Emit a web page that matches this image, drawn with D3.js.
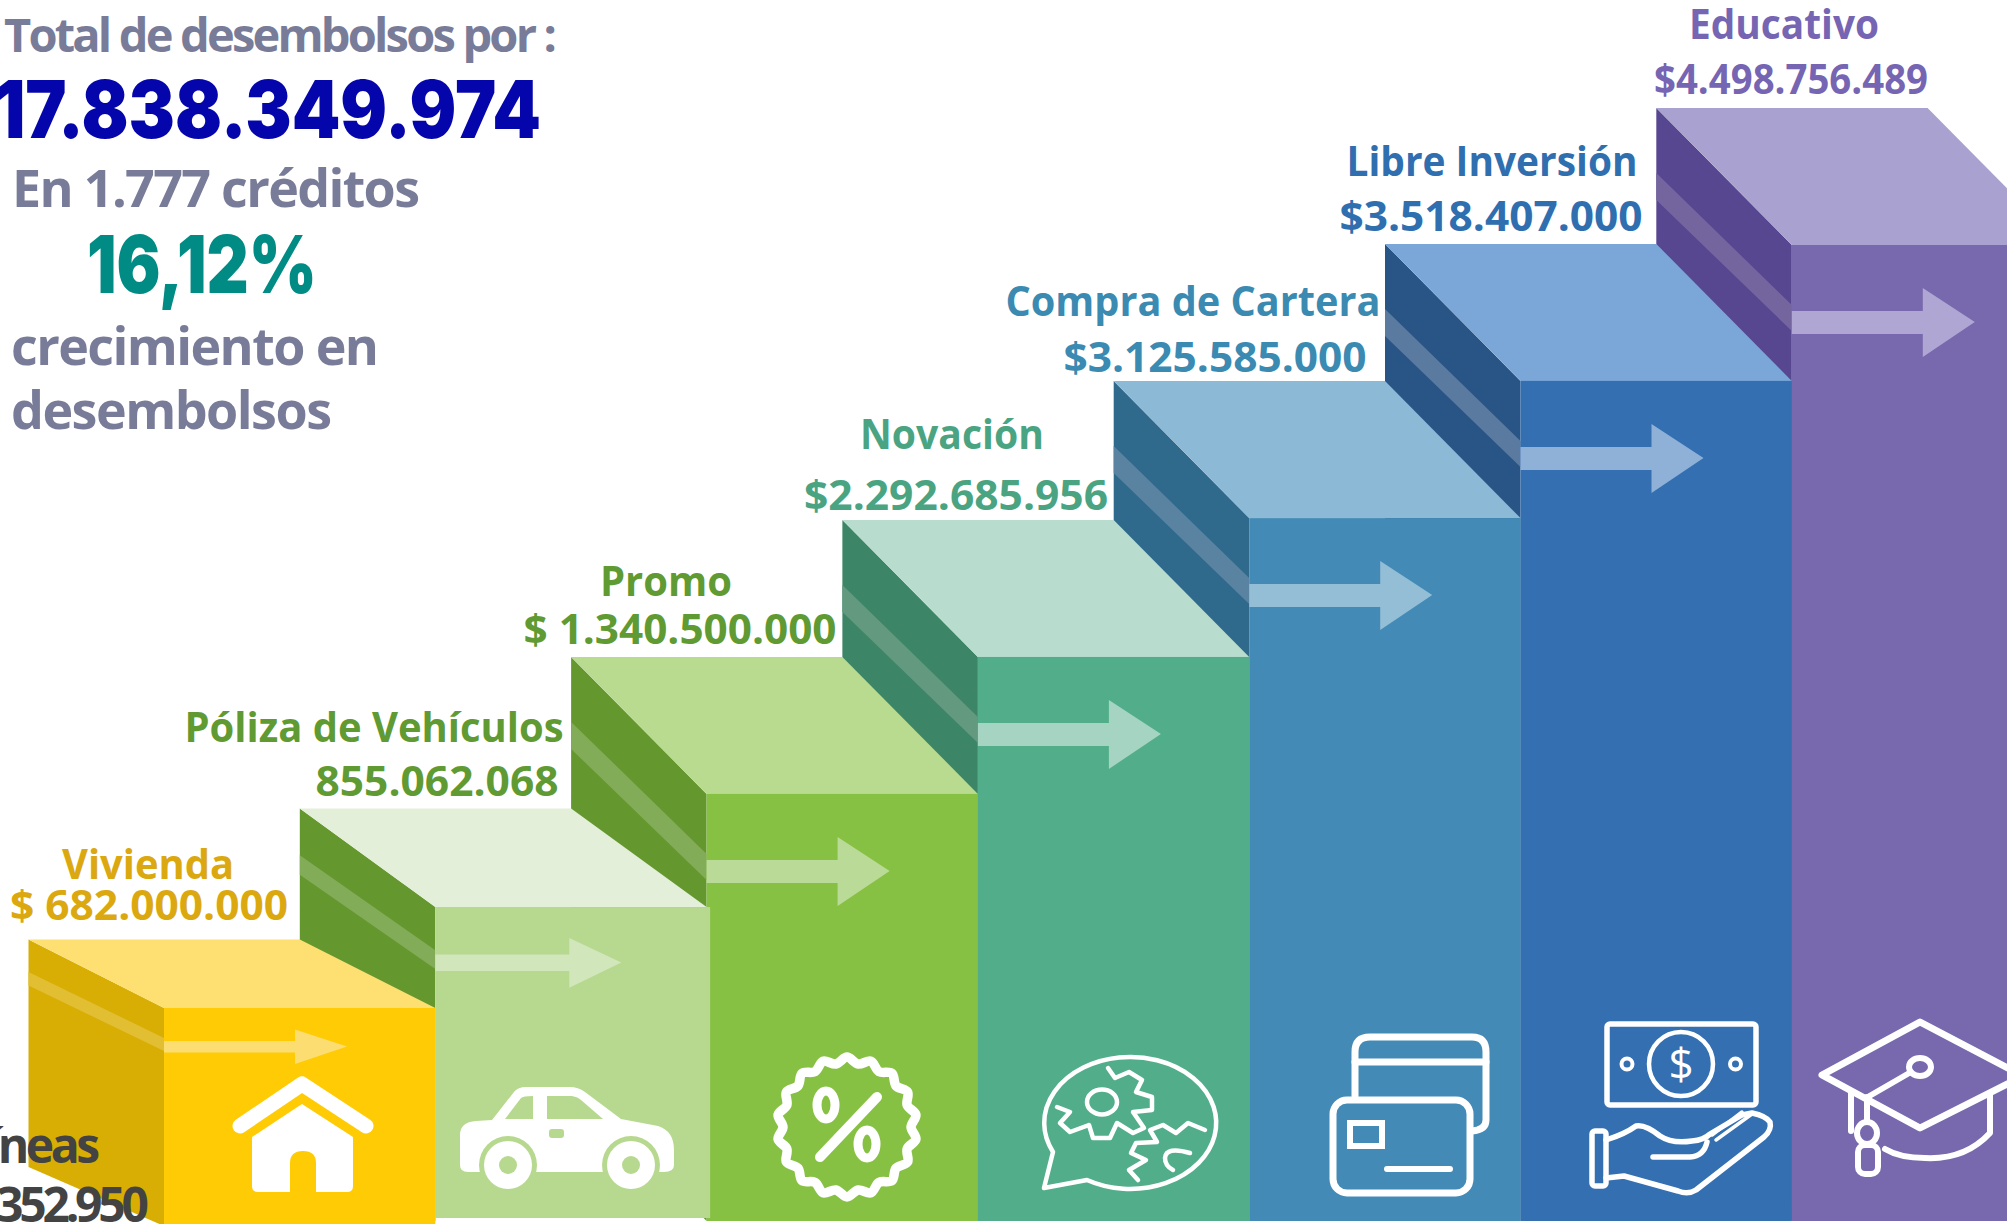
<!DOCTYPE html>
<html lang="es">
<head>
<meta charset="utf-8">
<title>Total de desembolsos</title>
<script src="https://cdn.jsdelivr.net/npm/d3@7/dist/d3.min.js"></script>
<style>
html,body{margin:0;padding:0;background:#fff;overflow:hidden}
svg{display:block}
</style>
</head>
<body>
<div id="chart"></div>
<script>
// ---- data ----
const categories = ["Vivienda","Póliza de Vehículos","Promo","Novación","Compra de Cartera","Libre Inversión","Educativo"];
const amountLabels = ["$ 682.000.000","855.062.068","$ 1.340.500.000","$2.292.685.956","$3.125.585.000","$3.518.407.000","$4.498.756.489"];
const amounts = [682000000,855062068,1340500000,2292685956,3125585000,3518407000,4498756489];
// drawn height of every step of the staircase, in steps of the first block
const stepLevels = [1,1.474,2.005,2.648,3.30,3.944,4.582];
// depth of each block relative to the deep ones
const blockDepth = [0.5,0.72,1,1,1,1,1];

// ---- styles ----
const frontColors = ["#FFCB05","#B7D98F","#87C144","#52AE8A","#438BB6","#336FB1","#7868AE"];
const sideColors  = ["#D8AE04","#65972F","#65972F","#3D8567","#2F6A8C","#285586","#574690"];
const topColors   = ["#FEDF72","#E4EFD9","#B9DB90","#B8DDCF","#8CB9D5","#7BA7D8","#A9A1CF"];
const bandColors  = ["#E2BE33","#83AC58","#83AC58","#62997F","#5A83A1","#5A7AA0","#75659F"];
const arrowColors = ["#FBDD72","#D2E6BC","#BADB97","#A5D5C2","#93BED6","#8FB0D7","#AFA6D3"];
const labelColors = ["#DBA80F","#5F9A32","#5F9A32","#4AA482","#3A8AB2","#2F6FAF","#7565B3"];

const W = 2007, H = 1224;
const floorY = 1221, depthX = 135.5, depthY = 137;
const svg = d3.select("#chart").append("svg").attr("width",W).attr("height",H).attr("viewBox",`0 0 ${W} ${H}`);

const x = d3.scaleBand().domain(categories).range([164,164+7*271.3]).padding(0);
const y = d3.scaleLinear().domain([0,stepLevels[6]]).range([floorY,245]);
const rows = categories.map((name,i)=>({name,i,level:stepLevels[i],amount:amounts[i],s:blockDepth[i]}));
const poly = pts => "M"+pts.map(p=>p.join(",")).join("L")+"Z";
const arrowPath = (d)=>{
  const x0=x(d.name), t=y(d.level), s=d.s, n=d.i===1?3:0;
  return poly([[x0,t+66*s],[x0+131+n,t+66*s],[x0+131+n,t+43*s],[x0+183+n,t+77*s],[x0+131+n,t+112*s],[x0+131+n,t+89*s],[x0,t+89*s]]);
};

// Blocks: right to left, so each block hides the lower part of the next one's side.
const block = svg.append("g").selectAll("g").data(rows.slice().reverse()).join("g");
block.each(function(d){
  const g = d3.select(this);
  const x0 = x(d.name), bw = x.bandwidth(), t = y(d.level), s = d.s;
  const dy = depthY*s;
  const extra = d.i===1 ? 3.5 : 0;
  const bottom = d.i===0 ? H : d.i===1 ? 1218 : floorY;
  const sideBottom = d.i===0 ? 1226 : floorY;
  const sideBack = d.i===0 ? 1167 : sideBottom-dy;
  g.append("path").attr("fill",sideColors[d.i])
    .attr("d",poly([[x0-depthX,t-dy],[x0,t],[x0,sideBottom],[x0-depthX,sideBack]]));
  g.append("path").attr("fill",bandColors[d.i])
    .attr("d",poly([[x0-depthX,t-dy+65*s],[x0,t+60*s],[x0,t+86*s],[x0-depthX,t-dy+92*s]]));
  g.append("path").attr("fill",topColors[d.i])
    .attr("d",poly([[x0-depthX,t-dy],[x0+bw-depthX,t-dy],[x0+bw,t],[x0,t]]));
  g.append("rect").attr("x",x0).attr("y",t).attr("width",bw+extra).attr("height",bottom-t).attr("fill",frontColors[d.i]);
  g.append("path").attr("fill",arrowColors[d.i]).attr("d",arrowPath(d));
});

// Text labels: centre x, baseline y, text width
const labelBoxes = [
  [[148,879,172],[149,920,278]],
  [[374,742,379],[437,796,243]],
  [[666,596,132],[680,644,313]],
  [[952,449,184],[956,510,304]],
  [[1193,316,375],[1215,372,303]],
  [[1492,176,291],[1491,231,303]],
  [[1784,39,190],[1791,94,274]]
];
const labels = svg.append("g").attr("font-family","'Open Sans',sans-serif").attr("font-weight",700).attr("text-anchor","middle");
rows.forEach(d=>{
  [d.name,amountLabels[d.i]].forEach((txt,k)=>{
    const b = labelBoxes[d.i][k];
    labels.append("text").attr("x",b[0]).attr("y",b[1]).attr("fill",labelColors[d.i])
      .attr("font-size",42).attr("textLength",b[2]).attr("lengthAdjust","spacingAndGlyphs").text(txt);
  });
});

// Summary text
const summary = [
  {t:"Total de desembolsos por :",x:4,y:52,size:47,w:700,fill:"#787C99",len:553,fam:"'Open Sans'",adj:"spacing"},
  {t:"17.838.349.974",x:-6,y:138,size:80,w:900,fill:"#0505AC",len:547,fam:"Inter",adj:"spacingAndGlyphs"},
  {t:"En 1.777 créditos",x:12,y:207,size:52,w:700,fill:"#787C99",len:408,fam:"'Open Sans'",adj:"spacing"},
  {t:"16,12%",x:87,y:293,size:80,w:900,fill:"#008C84",len:230,fam:"Inter",adj:"spacingAndGlyphs"},
  {t:"crecimiento en",x:11,y:365,size:52,w:700,fill:"#787C99",len:368,fam:"'Open Sans'",adj:"spacing"},
  {t:"desembolsos",x:11,y:429,size:52,w:700,fill:"#787C99",len:321,fam:"'Open Sans'",adj:"spacing"}
];
svg.append("g").selectAll("text").data(summary).join("text")
  .attr("x",d=>d.x).attr("y",d=>d.y).attr("font-size",d=>d.size).attr("font-weight",d=>d.w)
  .attr("font-family",d=>d.fam+",sans-serif").attr("fill",d=>d.fill)
  .attr("textLength",d=>d.len).attr("lengthAdjust",d=>d.adj).text(d=>d.t);

const other = svg.append("g").attr("font-family","'Open Sans',sans-serif").attr("font-weight",700).attr("fill","#434343").attr("font-size",48);
other.append("text").attr("x",-37).attr("y",1163).attr("textLength",137).attr("lengthAdjust","spacing").text("Líneas");
other.append("text").attr("x",-4).attr("y",1222).attr("textLength",153).attr("lengthAdjust","spacing").text("352.950");

// ---- Icons ----
const icons = svg.append("g");
const line = (g,d,w)=>g.append("path").attr("d",d).attr("fill","none").attr("stroke","#fff").attr("stroke-width",w).attr("stroke-linecap","round").attr("stroke-linejoin","round");
// house
{
  const g = icons.append("g");
  line(g,"M240,1126 L302,1084 L366,1126",15);
  g.append("path").attr("fill","#fff").attr("d","M302,1104 L353,1137 L353,1186 Q353,1192 347,1192 L316,1192 L316,1163 Q316,1151 303,1151 Q290,1151 290,1163 L290,1192 L258,1192 Q252,1192 252,1186 L252,1137 Z");
}
// car
{
  const g = icons.append("g"), bg = frontColors[1];
  g.append("path").attr("fill","#fff").attr("d","M460,1135 Q460,1122 476,1121 L492,1120 L514,1092 Q518,1087 526,1087 L570,1087 Q578,1087 585,1092 L621,1119 L658,1126 Q674,1131 674,1150 L674,1165 Q674,1172 664,1172 L468,1172 Q460,1172 460,1165 Z");
  g.append("path").attr("fill",bg).attr("d","M505,1119 L521,1098 Q523,1096 533,1096 L533,1119 Z");
  g.append("path").attr("fill",bg).attr("d","M547,1096 L572,1096 Q578,1097 581,1100 L603,1119 L547,1119 Z");
  g.append("rect").attr("x",549).attr("y",1129).attr("width",15).attr("height",9).attr("rx",3).attr("fill",bg);
  [508,631].forEach(cx=>{
    g.append("circle").attr("cx",cx).attr("cy",1165).attr("r",29).attr("fill",bg);
    g.append("circle").attr("cx",cx).attr("cy",1165).attr("r",24).attr("fill","#fff");
    g.append("circle").attr("cx",cx).attr("cy",1165).attr("r",9).attr("fill",bg);
  });
}
// discount badge
{
  const g = icons.append("g").attr("transform","translate(847,1127)");
  const wavy = [];
  const lobes = 18;
  for(let k=0;k<lobes*2;k++){ wavy.push([k*Math.PI/lobes, k%2? 64:70]); }
  line(g,d3.lineRadial().curve(d3.curveCatmullRomClosed)(wavy),9.5);
  line(g,"M-27,30 L30,-30",10);
  g.append("ellipse").attr("cx",-21).attr("cy",-22).attr("rx",9).attr("ry",14).attr("fill","none").attr("stroke","#fff").attr("stroke-width",9);
  g.append("ellipse").attr("cx",20).attr("cy",17).attr("rx",9).attr("ry",14).attr("fill","none").attr("stroke","#fff").attr("stroke-width",9);
}
// gears in a speech bubble
{
  const g = icons.append("g");
  line(g,"M1053,1152 A86,66 0 1 1 1087,1180 L1044,1188 Z",4.5);
  g.append("ellipse").attr("cx",1102).attr("cy",1102).attr("rx",15).attr("ry",12.5).attr("fill","none").attr("stroke","#fff").attr("stroke-width",4.5);
  line(g,"M1108,1068 L1115,1078 L1129,1072 L1142,1080 L1136,1092 L1152,1097 L1152,1110 L1133,1112 L1144,1128 L1133,1133 L1117,1123 L1110,1138 L1093,1138 L1089,1125 L1070,1132 L1060,1123 L1070,1112 L1057,1107",4.5);
  line(g,"M1205,1130 L1188,1123 L1176,1133 L1163,1125 L1150,1130 L1157,1142 L1136,1143 L1131,1153 L1146,1160 L1129,1170 L1138,1180",4.5);
  line(g,"M1190,1153 Q1166,1146 1165,1158 Q1165,1166 1173,1170",4.5);
}
// cards
{
  const g = icons.append("g");
  line(g,"M1355,1096 L1355,1052 Q1355,1037 1370,1037 L1472,1037 Q1486,1037 1486,1052 L1486,1120 Q1486,1130 1472,1131",7);
  line(g,"M1355,1062 L1486,1062",7);
  g.append("rect").attr("x",1333).attr("y",1100).attr("width",137).attr("height",93).attr("rx",14).attr("fill",frontColors[4]).attr("stroke","#fff").attr("stroke-width",7);
  g.append("rect").attr("x",1350).attr("y",1123).attr("width",32).attr("height",23).attr("fill","none").attr("stroke","#fff").attr("stroke-width",6);
  line(g,"M1387,1169 L1450,1169",6);
}
// money and hand
{
  const g = icons.append("g");
  g.append("rect").attr("x",1607).attr("y",1024).attr("width",149).attr("height",81).attr("rx",3).attr("fill","none").attr("stroke","#fff").attr("stroke-width",5.5);
  g.append("circle").attr("cx",1681).attr("cy",1064).attr("r",32).attr("fill","none").attr("stroke","#fff").attr("stroke-width",4.5);
  [1627,1735.5].forEach(cx=>g.append("circle").attr("cx",cx).attr("cy",1064).attr("r",5.5).attr("fill","none").attr("stroke","#fff").attr("stroke-width",4));
  g.append("text").attr("x",1681).attr("y",1080).attr("text-anchor","middle").attr("font-family","'Open Sans',sans-serif").attr("font-size",44).attr("font-weight",400).attr("fill","#fff").text("$");
  g.append("rect").attr("x",1592).attr("y",1131).attr("width",14).attr("height",55).attr("rx",3).attr("fill","none").attr("stroke","#fff").attr("stroke-width",5.5);
  line(g,"M1606,1140 Q1625,1134 1636,1126 Q1645,1124 1660,1136 Q1672,1144 1692,1141 Q1704,1140 1710,1134 L1742,1115 L1752,1113 Q1766,1116 1770,1122 Q1772,1130 1764,1137 L1696,1190 Q1688,1195 1678,1191 L1624,1176 L1606,1178",5.5);
  line(g,"M1653,1157 L1690,1157 Q1704,1156 1707,1142",5.5);
  line(g,"M1712,1135 L1742,1112 M1716,1140 L1752,1114",3.5);
}
// graduation cap
{
  const g = icons.append("g");
  line(g,"M1920,1022 L2023,1076 L1920,1128 L1822,1075 Z",7);
  line(g,"M1866,1098 L1911,1072",5.5);
  g.append("ellipse").attr("cx",1920).attr("cy",1067).attr("rx",11).attr("ry",9).attr("fill","none").attr("stroke","#fff").attr("stroke-width",6);
  line(g,"M1851,1092 L1851,1131",6);
  line(g,"M1867,1097 L1867,1122",6);
  line(g,"M1990,1094 L1990,1133 Q1965,1160 1925,1158 Q1900,1158 1885,1149",6);
  g.append("ellipse").attr("cx",1867).attr("cy",1133).attr("rx",10).attr("ry",11).attr("fill","none").attr("stroke","#fff").attr("stroke-width",6);
  g.append("rect").attr("x",1858).attr("y",1145).attr("width",20).attr("height",29).attr("rx",7).attr("fill","none").attr("stroke","#fff").attr("stroke-width",6);
}
</script>
</body>
</html>
